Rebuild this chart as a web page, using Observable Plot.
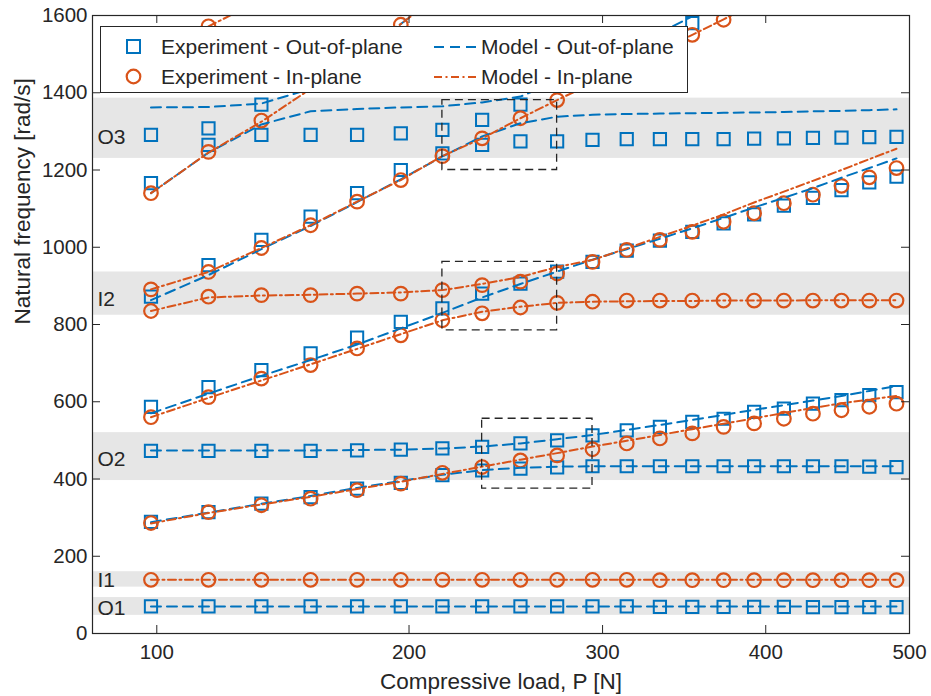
<!DOCTYPE html>
<html>
<head>
<meta charset="utf-8">
<script src="https://cdn.jsdelivr.net/npm/d3@7"></script>
<script src="https://cdn.jsdelivr.net/npm/@observablehq/plot@0.6"></script>
<style>
  body { margin: 0; background: #fff; }
  #wrap { position: relative; width: 931px; height: 696px; font-family: "Liberation Sans", Arial, Helvetica, sans-serif; color: #262626; }
  #legend { position: absolute; left: 100px; top: 26px; width: 588px; height: 67px; background: #fff; border: 1px solid #262626; box-sizing: border-box; font-size: 21px; }
  .item { position: absolute; display: flex; align-items: center; white-space: nowrap; height: 24px; }
  .item svg { display: block; }
</style>
</head>
<body>
<div id="wrap"></div>
<script>
// ---------- data ----------
const loads = [98.1, 117.7, 137.3, 156.9, 176.6, 196.2, 215.8, 235.4, 255.1, 274.7, 294.3, 313.9, 333.5, 353.2, 372.8, 392.4, 412.0, 431.6, 451.3, 470.9, 490.5];
const xTicks = [100, 200, 300, 400, 500];
const yTicks = [0, 200, 400, 600, 800, 1000, 1200, 1400, 1600];
const xLabel = "Compressive load, P [N]";
const yLabel = "Natural frequency [rad/s]";

// shaded mode bands
const bandNames = ["O1", "I1", "O2", "I2", "O3"];
const bandLow   = [47, 120, 396, 824, 1230];
const bandHigh  = [93, 160, 520, 936, 1386];
const bandLabelAt = [66, 138, 450, 865, 1285];

// dashed zoom boxes
const boxLoadLow  = [215.8, 215.8, 235.4];
const boxLoadHigh = [274.7, 274.7, 294.3];
const boxFreqLow  = [1200, 785, 375];
const boxFreqHigh = [1381, 962, 556];

// Experiment - Out-of-plane (squares)
const expOopO1    = [70,70,70,70,70,70,70,70,70,70,70,70,69,69,69,69,69,68,68,68,68];
const expOopO2up  = [473,473,473,473,474,476,479,483,492,500,513,526,535,548,556,574,582,595,604,617,625];
const expOopO2low = [289,314,336,353,375,390,410,422,427,430,433,433,433,433,433,433,433,433,433,432,431];
const expOopB     = [587,638,682,725,766,807,842,880,906,937,962,991,1017,1040,1062,1085,1108,1128,1148,1168,1183];
const expOopC     = [872,954,1019,1079,1140,1200,1243,1265,1274,1274,1278,1280,1280,1280,1280,1281,1282,1283,1284,1285,1286];
const expOopD     = [1166,1265,1291,1291,1291,1295,1304,1330,1369,null,null,null,null,1580,null,null,null,null,null,null,null];
const expOopE     = [1291,1308,1369,null,null,null,null,null,null,null,null,null,null,null,null,null,null,null,null,null,null];

// Experiment - In-plane (circles)
const expIpI1 = [139,139,139,139,139,139,139,139,139,139,139,139,138,138,138,138,138,138,138,138,138];
const expIpA  = [286,314,332,349,371,388,416,431,448,461,477,492,505,518,535,544,556,569,578,587,595];
const expIpB  = [560,612,660,695,738,772,811,829,844,856,859,862,862,862,862,862,862,862,862,862,862];
const expIpI2 = [835,872,876,876,880,880,889,902,911,932,962,993,1019,1040,1066,1088,1114,1136,1159,1181,1205];
const expIpC  = [891,936,998,1057,1118,1174,1236,1282,1334,1381,null,null,null,1550,1589,null,null,null,null,null,null];
const expIpD  = [1140,1247,1328,null,null,1576,null,null,null,null,null,null,null,null,null,null,null,null,null,null,null];
const expIpE  = [null,1572,null,null,null,null,null,null,null,null,null,null,null,null,null,null,null,null,null,null,null];

// Model - Out-of-plane (dashed)
const modOopO1    = [70,70,70,70,70,70,70,70,70,70,70,70,70,70,70,70,70,70,70,70,70];
const modOopO2up  = [474,474,474,474,475,476,479,484,492,503,514,527,540,553,566,579,591,603,615,628,641];
const modOopO2low = [288,313,336,356,377,395,411,423,429,432,433,433,433,433,433,433,433,433,433,433,433];
const modOopB     = [570,621,667,708,748,790,830,870,905,937,968,995,1022,1049,1076,1103,1128,1153,1180,1205,1230];
const modOopC     = [863,928,995,1055,1117,1176,1235,1287,1321,1338,1343,1345,1346,1347,1348,1349,1350,1352,1353,1355,1357];
const modOopD     = [1140,1245,1318,1352,1358,1362,1365,1375,1390,1430,1475,1515,1555,1598,1640,null,null,null,null,null,null];
const modOopE     = [1362,1363,1372,1410,1495,1578,1660,null,null,null,null,null,null,null,null,null,null,null,null,null,null];

// Model - In-plane (dash-dot)
const modIpI1 = [139,139,139,139,139,139,139,139,139,139,139,139,139,139,139,139,139,139,139,139,139];
const modIpA  = [285,312,334,354,374,393,413,432,450,467,484,499,514,529,543,557,571,584,596,606,615];
const modIpB  = [560,610,655,697,737,775,811,833,846,856,859,860,861,861,862,862,862,863,863,863,863];
const modIpI2 = [835,870,875,877,880,883,889,905,923,949,967,997,1027,1056,1085,1116,1144,1172,1200,1228,1255];
const modIpC  = [891,936,998,1057,1118,1174,1236,1282,1334,1381,1425,1468,1510,1550,1590,1630,null,null,null,null,null];
const modIpD  = [1140,1245,1325,1410,1495,1578,1660,null,null,null,null,null,null,null,null,null,null,null,null,null,null];
const modIpE  = [null,1572,1640,null,null,null,null,null,null,null,null,null,null,null,null,null,null,null,null,null,null];

// ---------- tables ----------
const rows = (vals, s) => loads.map((P, i) => ({P, f: vals[i], s}));
const expOop = [expOopO1, expOopO2up, expOopO2low, expOopB, expOopC, expOopD, expOopE]
  .flatMap((v, k) => rows(v, "s" + k)).filter(d => d.f != null);
const expIp = [expIpI1, expIpA, expIpB, expIpI2, expIpC, expIpD, expIpE]
  .flatMap((v, k) => rows(v, "s" + k)).filter(d => d.f != null);
const modOop = [modOopO1, modOopO2up, modOopO2low, modOopB, modOopC, modOopD, modOopE]
  .flatMap((v, k) => rows(v, "m" + k));
const modIp = [modIpI1, modIpA, modIpB, modIpI2, modIpC, modIpD, modIpE]
  .flatMap((v, k) => rows(v, "m" + k));
const bands = bandNames.map((n, i) => ({n, lo: bandLow[i], hi: bandHigh[i], at: bandLabelAt[i]}));
const boxes = boxLoadLow.map((v, i) => ({x1: v, x2: boxLoadHigh[i], y1: boxFreqLow[i], y2: boxFreqHigh[i]}));

const BLUE = "#0072BD", ORANGE = "#D95319", INK = "#262626";
const xDomain = [80, 500];
const W = 931, H = 696, ML = 92, MR = 22, MT = 15, MB = 63;
const innerH = H - MT - MB, innerW = W - ML - MR, TL = 8;

const chart = Plot.plot({
  width: W, height: H,
  marginLeft: ML, marginRight: MR, marginTop: MT, marginBottom: MB,
  style: {fontFamily: '"Liberation Sans", Arial, Helvetica, sans-serif', fontSize: "20.5px", color: INK, background: "white"},
  x: {type: "sqrt", domain: xDomain, ticks: xTicks, tickSize: 0, tickPadding: 11, tickFormat: d => String(d), label: null},
  y: {domain: [0, 1600], ticks: yTicks, tickSize: 0, tickPadding: 5, tickFormat: d => String(d), label: null},
  marks: [
    Plot.rect(bands, {x1: () => xDomain[0], x2: () => xDomain[1], y1: "lo", y2: "hi", fill: "#e6e6e6"}),
    Plot.text(bands, {x: () => xDomain[0], y: "at", text: "n", textAnchor: "start", dx: 5, fontSize: 21, fill: INK}),
    Plot.dot(expOop, {x: "P", y: "f", symbol: "square", r: 6.9, stroke: BLUE, strokeWidth: 2, fill: "none", clip: true}),
    Plot.dot(expIp, {x: "P", y: "f", symbol: "circle", r: 6.8, stroke: ORANGE, strokeWidth: 2.2, fill: "none", clip: true}),
    Plot.line(modOop, {x: "P", y: "f", z: "s", stroke: BLUE, strokeWidth: 2, strokeDasharray: "10,6", clip: true}),
    Plot.line(modIp, {x: "P", y: "f", z: "s", stroke: ORANGE, strokeWidth: 2, strokeDasharray: "8,3.5,2,3.5", clip: true}),
    Plot.rect(boxes, {x1: "x1", x2: "x2", y1: "y1", y2: "y2", fill: "none", stroke: INK, strokeWidth: 1.3, strokeDasharray: "8,5"}),
    Plot.ruleX(xTicks, {x: d => d, insetTop: innerH - TL, stroke: INK}),
    Plot.ruleX(xTicks, {x: d => d, insetBottom: innerH - TL, stroke: INK}),
    Plot.ruleY(yTicks, {y: d => d, insetRight: innerW - TL, stroke: INK}),
    Plot.ruleY(yTicks, {y: d => d, insetLeft: innerW - TL, stroke: INK}),
    Plot.frame({stroke: INK, strokeWidth: 1.2}),
    Plot.text([xLabel], {frameAnchor: "bottom", dy: 55, text: d => d, fontSize: 22.5, fill: INK}),
    Plot.text([yLabel], {frameAnchor: "left", dx: -70, rotate: -90, text: d => d, fontSize: 22.5, fill: INK})
  ]
});
const wrap = document.getElementById("wrap");
wrap.appendChild(chart);

// ---------- legend ----------
const legendItems = [
  {label: "Experiment - Out-of-plane", left: 20, top: 8, sw: `<svg width="26" height="20"><rect x="6" y="3" width="13" height="13" fill="none" stroke="${BLUE}" stroke-width="2"/></svg>`},
  {label: "Experiment - In-plane", left: 20, top: 38, sw: `<svg width="26" height="20"><circle cx="12.5" cy="9.5" r="6.8" fill="none" stroke="${ORANGE}" stroke-width="2.2"/></svg>`},
  {label: "Model - Out-of-plane", left: 332, top: 8, sw: `<svg width="46" height="20"><line x1="1" y1="10" x2="44" y2="10" stroke="${BLUE}" stroke-width="2" stroke-dasharray="10,6"/></svg>`},
  {label: "Model - In-plane", left: 332, top: 38, sw: `<svg width="46" height="20"><line x1="1" y1="10" x2="44" y2="10" stroke="${ORANGE}" stroke-width="2" stroke-dasharray="8,3.5,2,3.5"/></svg>`}
];
const legend = document.createElement("div");
legend.id = "legend";
legendItems.forEach(it => {
  const d = document.createElement("div");
  d.className = "item";
  d.style.left = it.left + "px";
  d.style.top = it.top + "px";
  d.innerHTML = it.sw + `<span style="margin-left:${it.left === 20 ? 14 : 2}px">${it.label}</span>`;
  legend.appendChild(d);
});
wrap.appendChild(legend);
</script>
</body>
</html>
